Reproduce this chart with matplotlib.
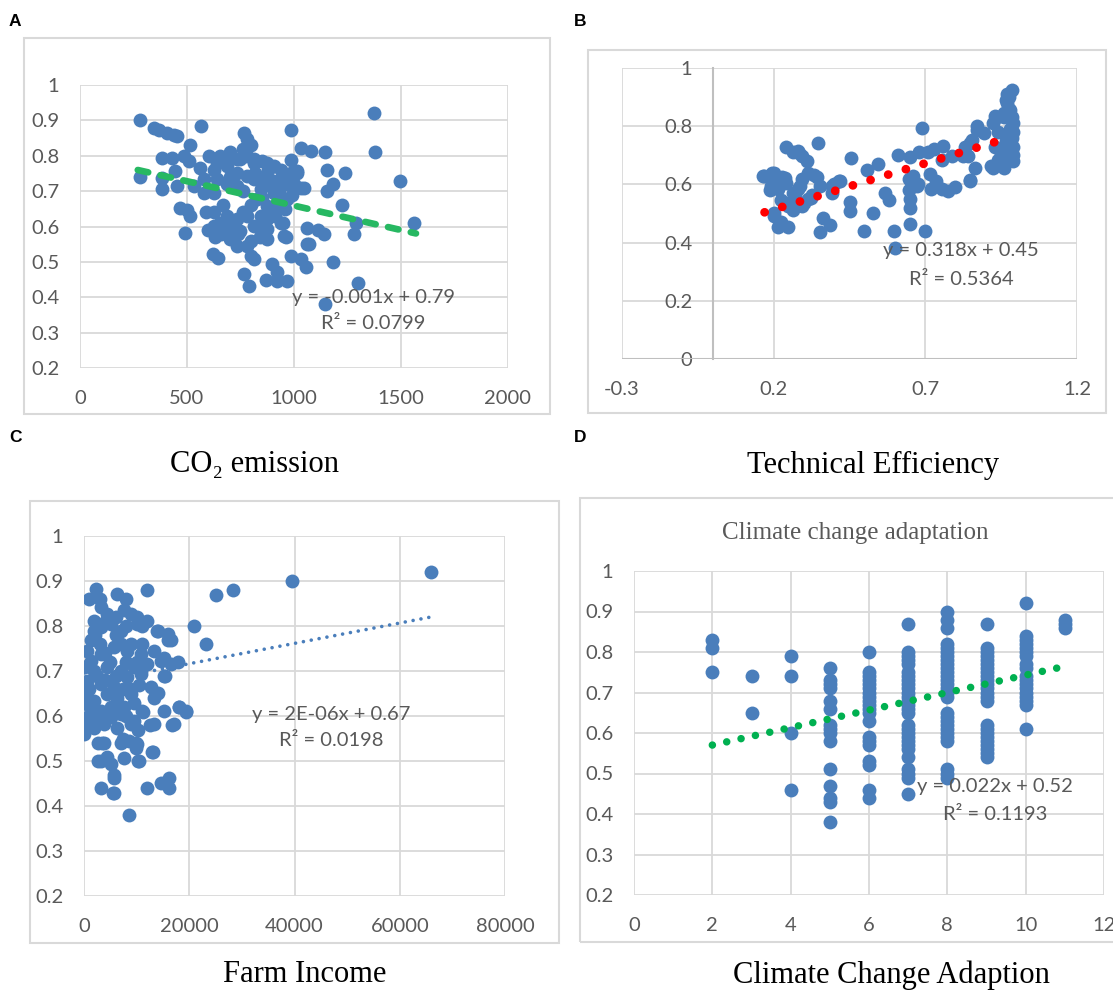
#!/usr/bin/env python

""" Four Excel-style scatter panels with linear trendlines """

import matplotlib
matplotlib.use('Agg')
import matplotlib.pyplot as plt
from matplotlib.patches import Rectangle
import numpy as np

W, H = 1113, 992

#----- Data ---------------------------------------------

# A: CO2 emission vs efficiency
co2_x = [280, 280, 344, 367, 406, 438, 452, 565, 383, 430, 383, 445, 453, 383, 516, 484,
         508, 531, 578, 625, 469, 500, 516, 492, 602, 656, 703, 734, 781, 813, 852, 766,
         781, 797, 750, 813, 875, 906, 563, 625, 688, 734, 781, 578, 641, 688, 734, 813,
         875, 938, 938, 984, 1016, 844, 906, 969, 1031, 828, 875, 938, 625, 688, 656, 625,
         734, 781, 844, 875, 688, 750, 813, 875, 938, 953, 703, 734, 622, 647, 781, 797,
         813, 766, 789, 875, 898, 922, 867, 922, 969, 984, 1031, 1055, 1063, 1063, 984, 984,
         1031, 1078, 1013, 1047, 1113, 1138, 1072, 1147, 1155, 1180, 1155, 1238, 1222, 1180,
         1147, 1288, 1280, 1297, 1372, 1380, 1497, 1563, 963, 947,
         700, 760, 820, 860, 900, 930, 960, 900, 850, 800, 760, 720, 660, 700, 850, 910,
         960, 990, 1000, 640, 700, 760, 880, 840, 800, 740, 670, 590, 600, 630]
co2_y = [0.90, 0.74, 0.878, 0.873, 0.864, 0.860, 0.856, 0.883, 0.794, 0.794, 0.738, 0.756,
         0.714, 0.705, 0.83, 0.80, 0.785, 0.714, 0.695, 0.695, 0.653, 0.648, 0.63, 0.583,
         0.80, 0.80, 0.795, 0.79, 0.80, 0.79, 0.785, 0.864, 0.846, 0.83, 0.79, 0.78, 0.78,
         0.77, 0.766, 0.76, 0.77, 0.752, 0.742, 0.733, 0.733, 0.72, 0.714, 0.733, 0.72, 0.733,
         0.76, 0.75, 0.757, 0.705, 0.695, 0.677, 0.71, 0.677, 0.658, 0.667, 0.64, 0.63, 0.611,
         0.602, 0.62, 0.63, 0.63, 0.62, 0.593, 0.588, 0.602, 0.593, 0.611, 0.573, 0.564,
         0.545, 0.522, 0.51, 0.545, 0.517, 0.508, 0.466, 0.433, 0.564, 0.494, 0.47, 0.45,
         0.447, 0.447, 0.517, 0.508, 0.485, 0.597, 0.55, 0.789, 0.874, 0.822, 0.813, 0.75,
         0.71, 0.59, 0.58, 0.55, 0.81, 0.76, 0.72, 0.70, 0.75, 0.66, 0.50, 0.38, 0.61, 0.58,
         0.44, 0.92, 0.81, 0.73, 0.61, 0.57, 0.61,
         0.74, 0.70, 0.75, 0.74, 0.73, 0.70, 0.72, 0.65, 0.68, 0.66, 0.64, 0.61, 0.58, 0.60,
         0.60, 0.63, 0.65, 0.69, 0.72, 0.78, 0.81, 0.82, 0.76, 0.57, 0.56, 0.58, 0.66, 0.64,
         0.59, 0.57]
co2_trend = [-0.000138, 0.797]      # slope, intercept
co2_trend_range = [270, 1570]

# B: technical efficiency vs efficiency
te_x = [0.165, 0.194, 0.188, 0.169, 0.202, 0.191, 0.236, 0.213, 0.206, 0.229, 0.241,
        0.241, 0.264, 0.282, 0.281, 0.292, 0.311, 0.346,
        0.292, 0.314, 0.342, 0.281, 0.27, 0.292, 0.314, 0.326, 0.247, 0.223, 0.252, 0.264,
        0.287, 0.334, 0.352, 0.264, 0.299, 0.322,
        0.2, 0.202, 0.213, 0.247, 0.225, 0.364, 0.353, 0.387, 0.393, 0.416, 0.392,
        0.45, 0.45, 0.456, 0.40, 0.42, 0.509, 0.545, 0.497, 0.526, 0.567, 0.579,
        0.61, 0.598, 0.60, 0.645, 0.645, 0.648, 0.648, 0.648, 0.66, 0.672, 0.651, 0.677,
        0.70, 0.69, 0.68, 0.708, 0.727, 0.757,
        0.715, 0.72, 0.735, 0.754, 0.775, 0.797, 0.754, 0.789,
        0.824, 0.83, 0.847, 0.847, 0.865, 0.871, 0.894, 0.917, 0.94, 0.929, 0.958, 0.87,
        0.854, 0.842, 0.848, 0.923, 0.955, 0.936, 0.924, 0.94, 0.93, 0.95,
        0.985, 0.975, 0.97, 0.98, 0.985, 0.99, 0.99, 0.985, 0.99, 0.985, 0.99, 0.965, 0.97,
        0.975, 0.98, 0.97, 0.965, 0.96, 0.965, 0.97, 0.975, 0.96, 0.99]
te_y = [0.63, 0.64, 0.58, 0.628, 0.64, 0.594, 0.622, 0.583, 0.616, 0.627, 0.604,
        0.73, 0.713, 0.708, 0.714, 0.697, 0.679, 0.741,
        0.617, 0.64, 0.627, 0.583, 0.56, 0.526, 0.55, 0.565, 0.526, 0.547, 0.536, 0.57,
        0.593, 0.633, 0.593, 0.513, 0.536, 0.553,
        0.50, 0.49, 0.455, 0.455, 0.47, 0.485, 0.435, 0.46, 0.594, 0.61, 0.57,
        0.54, 0.507, 0.69, 0.60, 0.612, 0.65, 0.67, 0.44, 0.50, 0.57, 0.547,
        0.70, 0.44, 0.38, 0.62, 0.58, 0.55, 0.52, 0.465, 0.63, 0.593, 0.693, 0.60,
        0.44, 0.793, 0.71, 0.713, 0.72, 0.732,
        0.635, 0.585, 0.61, 0.585, 0.576, 0.59, 0.685, 0.696,
        0.696, 0.73, 0.742, 0.616, 0.656, 0.80, 0.776, 0.662, 0.685, 0.834, 0.845, 0.786,
        0.751, 0.699, 0.612, 0.658, 0.67, 0.83, 0.81, 0.78, 0.73, 0.708,
        0.923, 0.902, 0.88, 0.856, 0.832, 0.81, 0.78, 0.758, 0.728, 0.706, 0.68, 0.75, 0.72,
        0.776, 0.79, 0.685, 0.708, 0.656, 0.89, 0.91, 0.86, 0.83, 0.70]
te_trend = [0.318, 0.45]
te_trend_range = [0.17, 0.95]

# C: farm income vs efficiency
inc_x = [0, 0, 0, 0, 950, 2220, 6350, 7940, 12065, 25080, 28260, 39440, 65960, 20955, 23180,
         17780, 3175, 4445, 7620, 8890, 1900, 1900, 1270, 3175, 5080, 6985, 10160, 12065,
         13970, 15875, 16510, 635, 1270, 3175, 5715, 8255, 10800, 13335, 15240, 0, 1900, 4445,
         6985, 9525, 12065, 14600, 16510, 635, 3175, 5715, 8255, 10800, 12700, 13970, 15240,
         13335, 0, 1900, 4445, 6350, 8890, 7620, 5080, 3175, 635, 635, 2540, 5080, 6985, 9525,
         11110, 13335, 15240, 17145, 18100, 19370, 0, 1900, 3810, 6350, 8890, 3490, 6985,
         10160, 13020, 10480, 3175, 5080, 7620, 5715, 5715, 3175, 5715, 12065, 14600, 16190,
         16190, 8500, 10200, 9860, 9860, 12580, 12920, 16660, 18020, 19380, 15300, 15980,
         13940, 11220, 10200, 2720, 3740, 7480, 8500, 4420, 2720, 5440,
         2000, 3000, 4000, 5000, 6000, 7000, 8000, 9000, 10000, 11000, 2500, 4000, 6000, 7500,
         9000, 10500, 1000, 2000, 4000, 6000, 8000, 9500, 11000, 10000, 4000, 6000, 8000, 3000]
inc_y = [0.71, 0.63, 0.59, 0.56, 0.861, 0.883, 0.872, 0.861, 0.879, 0.868, 0.879, 0.90, 0.919,
         0.80, 0.76, 0.72, 0.842, 0.827, 0.835, 0.827, 0.812, 0.79, 0.768, 0.797, 0.805, 0.79,
         0.805, 0.812, 0.79, 0.783, 0.768, 0.745, 0.723, 0.738, 0.753, 0.745, 0.738, 0.745,
         0.730, 0.708, 0.70, 0.708, 0.70, 0.708, 0.716, 0.723, 0.716, 0.678, 0.671, 0.664,
         0.686, 0.693, 0.664, 0.652, 0.69, 0.641, 0.649, 0.634, 0.649, 0.641, 0.649, 0.619,
         0.619, 0.612, 0.626, 0.597, 0.589, 0.597, 0.604, 0.589, 0.612, 0.582, 0.612, 0.582,
         0.619, 0.612, 0.567, 0.574, 0.582, 0.574, 0.582, 0.541, 0.541, 0.537, 0.519, 0.50,
         0.50, 0.493, 0.507, 0.47, 0.463, 0.44, 0.429, 0.44, 0.452, 0.463, 0.44, 0.381, 0.57,
         0.54, 0.53, 0.58, 0.52, 0.58, 0.62, 0.61, 0.69, 0.77, 0.79, 0.61, 0.50, 0.54, 0.54,
         0.55, 0.545, 0.51, 0.50, 0.43,
         0.78, 0.76, 0.74, 0.72, 0.78, 0.76, 0.72, 0.76, 0.72, 0.76, 0.69, 0.68, 0.69, 0.66,
         0.66, 0.67, 0.66, 0.61, 0.60, 0.61, 0.60, 0.63, 0.80, 0.82, 0.81, 0.82, 0.80, 0.86]
inc_trend = [2.26e-6, 0.671]
inc_trend_range = [0, 66000]

# D: climate change adaptation score vs efficiency
adapt_levels = [2, 3, 4, 5, 6, 7, 8, 9, 10, 11]
adapt_values = [
    [0.83, 0.81, 0.75],
    [0.74, 0.65],
    [0.79, 0.74, 0.60, 0.46],
    [0.76, 0.73, 0.72, 0.71, 0.68, 0.66, 0.62, 0.61, 0.60, 0.58, 0.51, 0.47, 0.44, 0.43, 0.38],
    [0.80, 0.75, 0.74, 0.73, 0.72, 0.71, 0.70, 0.69, 0.68, 0.67, 0.66, 0.65, 0.63, 0.59,
     0.58, 0.57, 0.53, 0.52, 0.46, 0.44],
    [0.87, 0.80, 0.79, 0.78, 0.77, 0.75, 0.74, 0.73, 0.72, 0.71, 0.70, 0.69, 0.68, 0.67,
     0.66, 0.65, 0.62, 0.61, 0.60, 0.59, 0.58, 0.57, 0.56, 0.54, 0.51, 0.50, 0.49, 0.45],
    [0.90, 0.88, 0.86, 0.82, 0.81, 0.80, 0.79, 0.78, 0.77, 0.76, 0.75, 0.74, 0.73, 0.72,
     0.71, 0.70, 0.69, 0.65, 0.64, 0.63, 0.62, 0.61, 0.60, 0.59, 0.58, 0.51, 0.50, 0.49],
    [0.87, 0.81, 0.80, 0.79, 0.78, 0.77, 0.76, 0.75, 0.74, 0.73, 0.72, 0.71, 0.70, 0.69,
     0.68, 0.62, 0.61, 0.60, 0.59, 0.58, 0.57, 0.56, 0.55, 0.54],
    [0.92, 0.84, 0.83, 0.82, 0.81, 0.80, 0.79, 0.77, 0.76, 0.74, 0.73, 0.72, 0.71, 0.70,
     0.69, 0.68, 0.67, 0.61],
    [0.88, 0.87, 0.86],
]
adapt_trend = [0.0216, 0.527]
adapt_trend_range = [2, 10.8]

#----- Style --------------------------------------------

BLUE = '#4a7ebb'
GRID = '#d9d9d9'
TXT = '#595959'
SERIF = ['Liberation Serif', 'DejaVu Serif']
FS = 14.5       # tick / equation font size
MS = 10         # marker size

plt.rcParams['font.family'] = ['Lato', 'DejaVu Sans']

fig = plt.figure(figsize=(W / 100.0, H / 100.0), dpi=100)


def px_rect(left, top, right, bottom):
    """Convert a pixel box (top-left origin) to figure fractions"""
    return [left / W, 1 - bottom / H, (right - left) / W, (bottom - top) / H]


def frame(left, top, right, bottom):
    x0, y0, w, h = px_rect(left, top, right, bottom)
    fig.patches.append(Rectangle((x0, y0), w, h, transform=fig.transFigure,
                                 fill=False, edgecolor=GRID, linewidth=1.5))


def style_axes(ax, xticks, yticks):
    ax.set_xticks(xticks)
    ax.set_yticks(yticks)
    ax.set_xticklabels(['{:g}'.format(round(v, 6)) for v in xticks])
    ax.set_yticklabels(['{:g}'.format(round(v, 6)) for v in yticks])
    ax.set_xlim(xticks[0], xticks[-1])
    ax.set_ylim(yticks[0], yticks[-1])
    ax.grid(True, color=GRID, linewidth=1.3)
    ax.set_axisbelow(True)
    for s in ax.spines.values():
        s.set_visible(False)
    ax.tick_params(length=0, labelsize=FS, labelcolor=TXT)
    ax.tick_params(axis='y', pad=15)
    ax.tick_params(axis='x', pad=16)


def trend(ax, coef, xr, color, lw, dashes):
    xs = np.array(xr)
    ys = coef[0] * xs + coef[1]
    line, = ax.plot(xs, ys, color=color, linewidth=lw, zorder=4,
                    solid_capstyle='round', dash_capstyle='round')
    line.set_dashes(dashes)


def equation(ax, x, y1, y2, eq, r2):
    ax.text(x, y1, eq, ha='center', va='center', fontsize=FS, color=TXT, zorder=5)
    ax.text(x, y2, r2, ha='center', va='center', fontsize=FS, color=TXT, zorder=5)


#----- Panel A ------------------------------------------

frame(24, 38, 550, 414)
axA = fig.add_axes(px_rect(80, 85, 508, 368))
axA.plot(co2_x, co2_y, 'o', color=BLUE, markersize=MS, markeredgewidth=0, zorder=3)
trend(axA, co2_trend, co2_trend_range, '#27b862', 4.8, (1.6, 1.9))
style_axes(axA, [0, 500, 1000, 1500, 2000], np.arange(2, 11) / 10.0)
equation(axA, 1370, 0.40, 0.326, 'y = -0.001x + 0.79', 'R² = 0.0799')

#----- Panel B ------------------------------------------

frame(588, 50, 1106, 413)
axB = fig.add_axes(px_rect(622, 68, 1077, 359))
axB.plot(te_x, te_y, 'o', color=BLUE, markersize=MS, markeredgewidth=0, zorder=3)
trend(axB, te_trend, te_trend_range, '#ff0000', 6.3, (0.01, 2.1))
style_axes(axB, [-0.3, 0.2, 0.7, 1.2], np.arange(0, 6) / 5.0)
axB.spines['left'].set_visible(True)
axB.spines['left'].set_position(('data', 0))
axB.spines['left'].set_color('#bfbfbf')
axB.spines['left'].set_linewidth(1.5)
axB.spines['left'].set_zorder(1)
axB.axhline(0, color='#bfbfbf', linewidth=1.5, zorder=1)
equation(axB, 0.818, 0.373, 0.274, 'y = 0.318x + 0.45', 'R² = 0.5364')

#----- Panel C ------------------------------------------

frame(30, 501, 559, 943)
axC = fig.add_axes(px_rect(84, 536, 505, 896))
axC.plot(inc_x, inc_y, 'o', color=BLUE, markersize=MS, markeredgewidth=0, zorder=3)
trend(axC, inc_trend, inc_trend_range, BLUE, 2.6, (0.01, 2.2))
style_axes(axC, [0, 20000, 40000, 60000, 80000], np.arange(2, 11) / 10.0)
equation(axC, 46900, 0.604, 0.545, 'y = 2E-06x + 0.67', 'R² = 0.0198')

#----- Panel D ------------------------------------------

frame(580, 498, 1118, 942)
axD = fig.add_axes(px_rect(634, 571, 1104, 895))
for lvl, vals in zip(adapt_levels, adapt_values):
    axD.plot([lvl] * len(vals), vals, 'o', color=BLUE, markersize=MS, markeredgewidth=0, zorder=3)
trend(axD, adapt_trend, adapt_trend_range, '#00b050', 5.4, (0.01, 1.95))
style_axes(axD, list(range(0, 13, 2)), np.arange(2, 11) / 10.0)
equation(axD, 9.21, 0.469, 0.399, 'y = 0.022x + 0.52', 'R² = 0.1193')
fig.text(855 / W, 1 - 533 / H, 'Climate change adaptation', ha='center', va='center',
         fontsize=18, color=TXT, family=SERIF)

#----- Outside labels -----------------------------------

for letter, (x, y) in zip('ABCD', [(15, 22), (580, 22), (15, 438), (580, 438)]):
    fig.text(x / W, 1 - y / H, letter, ha='center', va='center', fontsize=12.5,
             fontweight='bold', family=['Liberation Sans', 'DejaVu Sans'])

fig.text(255 / W, 1 - 465 / H, 'CO₂ emission', ha='center', va='center', fontsize=22, family=SERIF)
fig.text(873 / W, 1 - 465 / H, 'Technical Efficiency', ha='center', va='center', fontsize=22, family=SERIF)
fig.text(305 / W, 1 - 975 / H, 'Farm Income', ha='center', va='center', fontsize=22, family=SERIF)
fig.text(891 / W, 1 - 975 / H, 'Climate Change Adaption', ha='center', va='center', fontsize=22, family=SERIF)

plt.savefig('out.png', dpi=100)
